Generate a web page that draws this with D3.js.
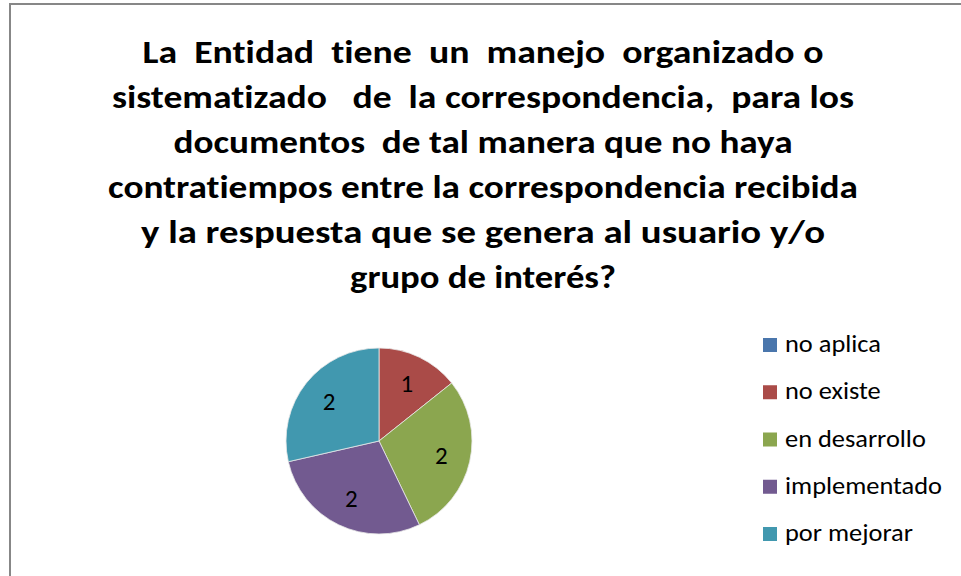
<!DOCTYPE html>
<html>
<head>
<meta charset="utf-8">
<script src="https://cdn.jsdelivr.net/npm/d3@7"></script>
<style>
  html, body { margin: 0; padding: 0; background: #fff; }
  svg { display: block; }
  text { font-variant-ligatures: none; font-feature-settings: "liga" 0, "clig" 0; }
</style>
</head>
<body>
<svg id="chart" width="961" height="576"></svg>
<script>
// Categories and counts
const categories = ["no aplica", "no existe", "en desarrollo", "implementado", "por mejorar"];
const values = [0, 1, 2, 2, 2];
const colors = ["#4A76AC", "#AA4B48", "#8BA64F", "#725A90", "#4198AF"];

// Title, one entry per line
const titleLines = [
  "La  Entidad  tiene  un  manejo  organizado o",
  "sistematizado   de  la correspondencia,  para los",
  "documentos  de tal manera que no haya",
  "contratiempos entre la correspondencia recibida",
  "y la respuesta que se genera al usuario y/o",
  "grupo de interés?"
];
const titleWidths = [681, 742, 619, 750, 684, 266];

const svg = d3.select("#chart");
const W = 961, H = 576;
const fontFamily = "Carlito, Calibri, Lato, 'Open Sans', sans-serif";

// Frame (top and left edges visible)
svg.append("path")
  .attr("d", `M10,${H} V4 H${W}`)
  .attr("fill", "none")
  .attr("stroke", "#878787")
  .attr("stroke-width", 2);

// Title
const titleX = 483;
svg.append("g").selectAll("text")
  .data(titleLines)
  .join("text")
  .attr("x", titleX)
  .attr("y", (d, i) => 63 + i * 45)
  .attr("text-anchor", "middle")
  .attr("font-family", fontFamily)
  .attr("font-weight", "bold")
  .attr("font-size", 33)
  .attr("fill", "#000")
  .attr("xml:space", "preserve")
  .style("white-space", "pre")
  .attr("textLength", (d, i) => titleWidths[i])
  .attr("lengthAdjust", "spacingAndGlyphs")
  .text(d => d);

// Pie
const cx = 379, cy = 441, r = 93;
const pie = d3.pie().sort(null).value(d => d.value);
const arcs = pie(categories.map((c, i) => ({ name: c, value: values[i], color: colors[i] })));
const arc = d3.arc().innerRadius(0).outerRadius(r);
const labelArc = d3.arc().innerRadius(64).outerRadius(64);

const g = svg.append("g").attr("transform", `translate(${cx},${cy})`);
g.selectAll("path")
  .data(arcs.filter(d => d.data.value > 0))
  .join("path")
  .attr("d", arc)
  .attr("fill", d => d.data.color)
  .attr("stroke", "#e8e8e8")
  .attr("stroke-width", 0.8);

g.selectAll("text")
  .data(arcs.filter(d => d.data.value > 0))
  .join("text")
  .attr("transform", d => `translate(${labelArc.centroid(d)})`)
  .attr("text-anchor", "middle")
  .attr("dy", "0.35em")
  .attr("font-family", fontFamily)
  .attr("font-size", 25)
  .attr("fill", "#000")
  .text(d => d.data.value);

// Legend
const legend = svg.append("g").attr("transform", "translate(763,0)");
const rowY = d3.scalePoint().domain(categories).range([352, 541]);
const rows = legend.selectAll("g")
  .data(categories)
  .join("g")
  .attr("transform", d => `translate(0,${rowY(d)})`);
rows.append("rect")
  .attr("x", 0).attr("y", -14)
  .attr("width", 14).attr("height", 14)
  .attr("fill", (d, i) => colors[i]);
rows.append("text")
  .attr("transform", "translate(22,0) scale(1.1,1)")
  .attr("font-family", fontFamily)
  .attr("font-size", 24)
  .attr("fill", "#000")
  .text(d => d);
</script>
</body>
</html>
